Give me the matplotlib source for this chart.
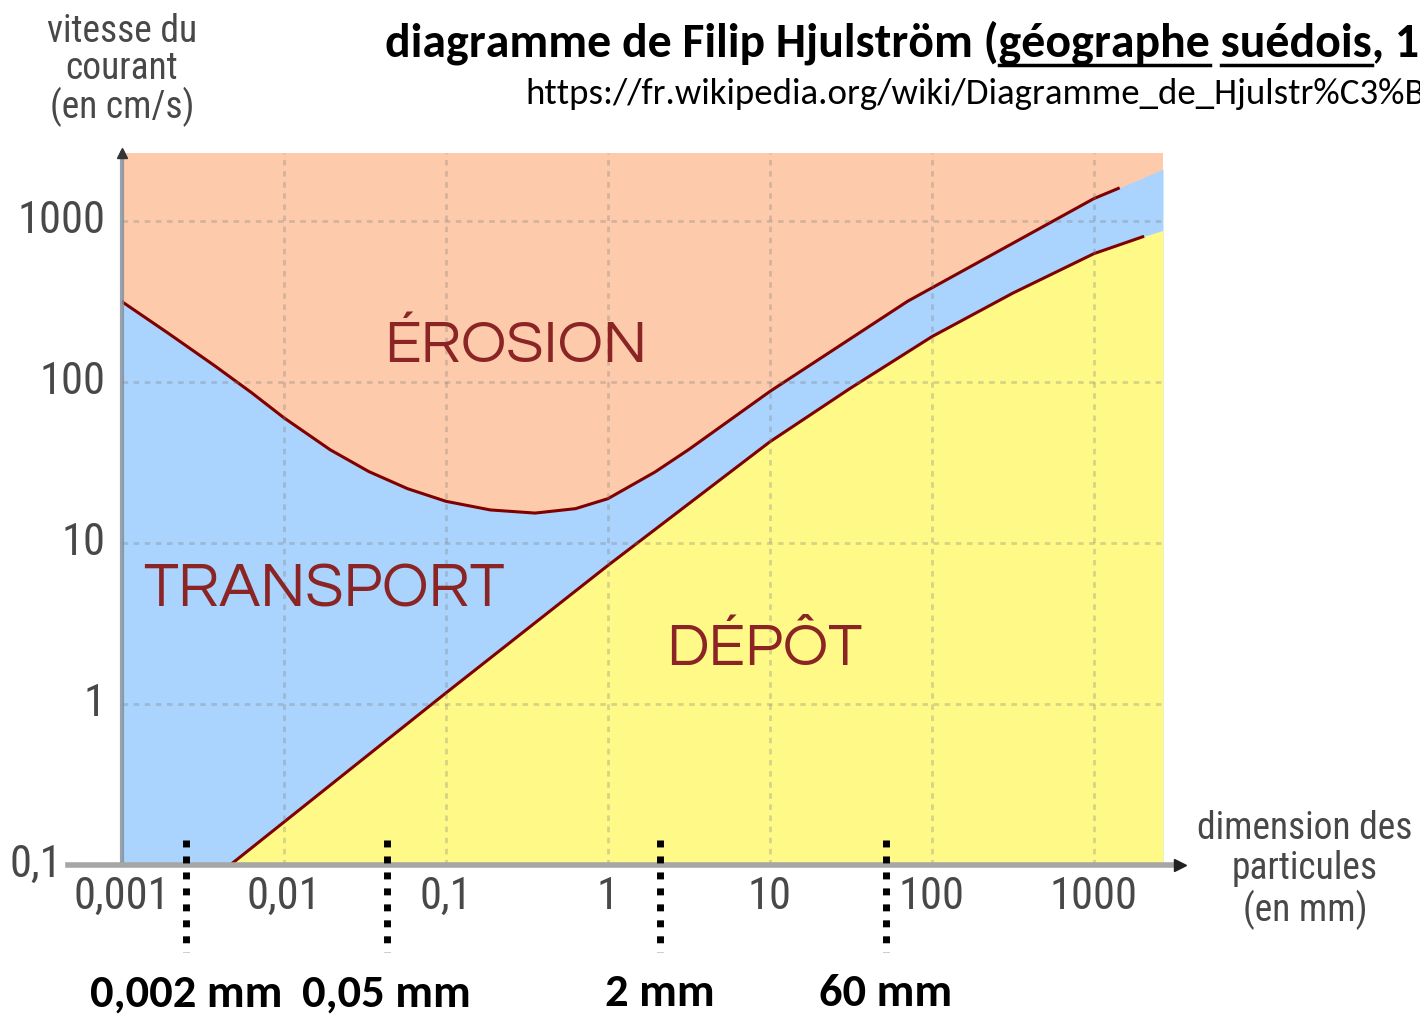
import matplotlib
matplotlib.use('Agg')
import matplotlib.pyplot as plt
import matplotlib.transforms as mtransforms

# erosion threshold (upper curve)
erosion_x = [0.001, 0.00193, 0.00372, 0.00631, 0.01, 0.0193, 0.0334, 0.0578, 0.1,
             0.188, 0.355, 0.631, 1, 1.95, 3.16, 10, 70.8, 1000, 1413]
erosion_y = [314, 200, 126, 85.5, 59.7, 37.8, 27.7, 21.7, 18.1,
             16.0, 15.3, 16.3, 18.8, 27.5, 38.0, 87.1, 316, 1371, 1585]
# where the blue band meets the top right corner
corner_x = [2670]
corner_y = [2090]

# deposit threshold (lower curve)
depot_x = [0.00465, 0.1, 1, 10, 31.2, 100, 316, 1000, 2000]
depot_y = [0.1, 1.17, 7.24, 42.4, 90.8, 190.5, 355, 624, 794]
depot_edge_x = [2670]
depot_edge_y = [870]

tick_values = [0.001, 0.01, 0.1, 1, 10, 100, 1000]
x_tick_labels = ['0,001', '0,01', '0,1', '1', '10', '100', '1000']
y_tick_values = [0.1, 1, 10, 100, 1000]
y_tick_labels = ['0,1', '1', '10', '100', '1000']

# grain size limits marked under the chart
limit_x = [0.0025, 0.043, 2.1, 52]
limit_labels = ['0,002 mm', '0,05 mm', '2 mm', '60 mm']

ORANGE = '#fdcbab'
BLUE = '#aad4fd'
YELLOW = '#fffa88'
LINE = '#800000'
LABEL_RED = '#8b2525'
NARROW = ['Roboto Condensed', 'DejaVu Sans']
ROUND = ['Questrial', 'DejaVu Sans']
CALIBRI = ['Carlito', 'DejaVu Sans']


def fit_size(fig, text, width_px, **kw):
    """font size that gives text the wanted width in pixels"""
    t = fig.text(0, 0, text, fontsize=30, **kw)
    w = t.get_window_extent(fig.canvas.get_renderer()).width
    t.remove()
    return 30 * width_px / w


def main():
    fig = plt.figure(figsize=(14.2, 10.16), dpi=100)
    ax = fig.add_axes([122 / 1420, 1 - 865 / 1016, 1041 / 1420, 712 / 1016])
    ax.set_xscale('log')
    ax.set_yscale('log')
    ax.set_xlim(0.001, 2670)
    ax.set_ylim(0.1, 2630)
    ax.set_facecolor(ORANGE)

    # areas
    ax.fill_between(erosion_x + corner_x, 0.1, erosion_y + corner_y, color=BLUE, lw=0)
    ax.fill_between(depot_x + depot_edge_x, 0.01, depot_y + depot_edge_y, color=YELLOW, lw=0)
    ax.plot(erosion_x, erosion_y, color=LINE, lw=2.2)
    ax.plot(depot_x, depot_y, color=LINE, lw=2.2)

    # dashed grid
    for v in tick_values[1:]:
        ax.axvline(v, color='#7a7a7a', alpha=0.3, lw=2, ls=(0, (2, 2)))
    for v in y_tick_values[1:]:
        ax.axhline(v, color='#7a7a7a', alpha=0.3, lw=2, ls=(0, (2, 2)))

    for s in ax.spines.values():
        s.set_visible(False)
    ax.set_xticks([])
    ax.set_yticks([])
    ax.minorticks_off()

    # axes lines with arrows
    ax.plot([0, 0], [0, 1], transform=ax.transAxes, color='#7f8c99', alpha=0.8,
            lw=3, clip_on=False)
    ax.plot([-0.052, 1.012], [0, 0], transform=ax.transAxes, color='#a6a6a6',
            lw=4, clip_on=False)
    ax.plot([1.016], [0], transform=ax.transAxes, marker='>', ms=9, color='#222222',
            clip_on=False)
    ax.plot([0], [1.0], transform=ax.transAxes, marker='^', ms=7, color='#333333',
            clip_on=False)

    # tick labels
    xtr = mtransforms.blended_transform_factory(ax.transData, ax.transAxes)
    for v, lab in zip(tick_values, x_tick_labels):
        ax.text(v, -0.045, lab, transform=xtr, ha='center', va='center',
                fontsize=32, color='#484848', family=NARROW)
    ytr = mtransforms.blended_transform_factory(ax.transAxes, ax.transData)
    for v, lab in zip(y_tick_values, y_tick_labels):
        xpos = -0.0576 if v == 0.1 else -0.016
        ax.text(xpos, v, lab, transform=ytr, ha='right', va='center',
                fontsize=32, color='#484848', family=NARROW)

    # axis titles
    fig.text(122 / 1420, 1 - 70 / 1016, 'vitesse du\ncourant\n(en cm/s)', ha='center',
             va='center', fontsize=27, color='#484848', family=NARROW, linespacing=1.0)
    fig.text(1305 / 1420, 1 - 870 / 1016, 'dimension des\nparticules\n(en mm)', ha='center',
             va='center', fontsize=27, color='#484848', family=NARROW, linespacing=1.1)

    # region names
    ax.text(0.3785, 0.7065, 'ÉROSION', transform=ax.transAxes, ha='center', va='baseline',
            fontsize=43.5, color=LABEL_RED, family=ROUND)
    ax.text(0.194, 0.3624, 'TRANSPORT', transform=ax.transAxes, ha='center', va='baseline',
            fontsize=44.5, color=LABEL_RED, family=ROUND)
    ax.text(0.6167, 0.2809, 'DÉPÔT', transform=ax.transAxes, ha='center', va='baseline',
            fontsize=43.5, color=LABEL_RED, family=ROUND)

    # limits below the axis
    for v, lab in zip(limit_x, limit_labels):
        ax.plot([v, v], [0.035, -0.122], transform=xtr, color='black', lw=5,
                ls=(0, (1, 1.3)), clip_on=False)
        ax.text(v, -0.18, lab, transform=xtr, ha='center', va='center',
                fontsize=33.5, fontweight='bold', family=CALIBRI)

    # title and source
    fig.canvas.draw()
    renderer = fig.canvas.get_renderer()
    size = fit_size(fig, 'diagramme de Filip Hjulström (géographe suédois', 982,
                    fontweight='bold', family=CALIBRI)
    title_font = dict(fontsize=size, fontweight='bold', family=CALIBRI)
    tx, ty = 385 / 1420, 1 - 43 / 1016
    fig.text(tx, ty, 'diagramme de Filip Hjulström (géographe suédois, 1935)',
             ha='left', va='center', **title_font)
    usize = fit_size(fig, 'https://fr.wikipedia.org/wiki/Diagramme_de_', 688, family=CALIBRI)
    fig.text(525 / 1420, 1 - 94 / 1016,
             'https://fr.wikipedia.org/wiki/Diagramme_de_Hjulstr%C3%B6m',
             ha='left', va='center', fontsize=usize, family=CALIBRI)

    # underline the two linked words
    for before, word in [('diagramme de Filip Hjulström (', 'géographe'),
                         ('diagramme de Filip Hjulström (géographe ', 'suédois')]:
        t2 = fig.text(tx, ty, before + word, ha='left', va='center', alpha=0, **title_font)
        x1 = t2.get_window_extent(renderer).x1 / 1420
        x0 = x1 - fig.text(0, 0, word, alpha=0, **title_font).get_window_extent(renderer).width / 1420
        fig.add_artist(plt.Line2D([x0, x1], [1 - 65 / 1016] * 2, color='black', lw=2.5,
                                  transform=fig.transFigure))

    fig.savefig('out.png', dpi=100)


if __name__ == '__main__':
    main()
